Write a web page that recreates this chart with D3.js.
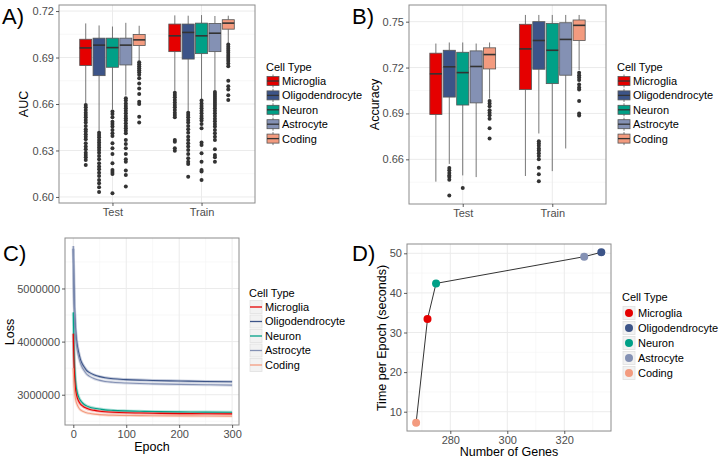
<!DOCTYPE html>
<html><head><meta charset="utf-8">
<script src="https://cdn.jsdelivr.net/npm/d3@7"></script>
<style>
body{margin:0;background:#fff;}
text{font-family:"Liberation Sans",Arial,sans-serif;}
</style></head><body>
<svg id="chart" width="720" height="460"></svg>
<script>
// ---------------- DATA ----------------
const cellTypes = ["Microglia","Oligodendrocyte","Neuron","Astrocyte","Coding"];
const typeColors = ["#E50000","#3C5488","#00A087","#8491B4","#F39B7F"];
const splits = ["Test","Train"];

const aucTicks = [0.60,0.63,0.66,0.69,0.72];
const accTicks = [0.66,0.69,0.72,0.75];
const epochTicks = [0,100,200,300];
const lossTicks = [3000000,4000000,5000000];
const geneTicks = [280,300,320];
const timeTicks = [10,20,30,40,50];

// box stats: [lower whisker, Q1, median, Q3, upper whisker]
const aucTestStats = [
  [0.6605,0.6848,0.6962,0.7018,0.7120],
  [0.6425,0.6783,0.6980,0.7025,0.7107],
  [0.6565,0.6837,0.6964,0.7025,0.7100],
  [0.6655,0.6852,0.6980,0.7025,0.7124],
  [0.6880,0.6977,0.7014,0.7049,0.7105]
];
const aucTrainStats = [
  [0.6685,0.6938,0.7040,0.7116,0.7172],
  [0.6555,0.6890,0.7062,0.7116,0.7170],
  [0.6630,0.6925,0.7040,0.7122,0.7174],
  [0.6685,0.6938,0.7057,0.7120,0.7168],
  [0.6990,0.7083,0.7122,0.7144,0.7170]
];
const aucTestOutliers = [
  [0.6594,0.6579,0.6561,0.6544,0.6529,0.6514,0.6497,0.6480,0.6458,0.6437,0.6422,0.6404,0.6389,0.6372,0.6346,0.6325,0.6308,0.6286,0.6271,0.6256,0.6239,0.6207],
  [0.6415,0.6400,0.6385,0.6368,0.6351,0.6336,0.6320,0.6303,0.6286,0.6265,0.6243,0.6217,0.6196,0.6179,0.6157,0.6136,0.6110,0.6088,0.6063,0.6032],
  [0.6551,0.6536,0.6514,0.6486,0.6471,0.6454,0.6432,0.6411,0.6394,0.6346,0.6314,0.6278,0.6217,0.6174,0.6161,0.6148,0.6024],
  [0.6637,0.6622,0.6604,0.6587,0.6572,0.6557,0.6540,0.6523,0.6508,0.6493,0.6475,0.6458,0.6443,0.6428,0.6411,0.6368,0.6342,0.6314,0.6278,0.6243,0.6228,0.6170,0.6142,0.6067],
  [0.6870,0.6857,0.6844,0.6831,0.6818,0.6805,0.6788,0.6767,0.6732,0.6700,0.6664,0.6615,0.6600,0.6518,0.6480]
];
const aucTrainOutliers = [
  [0.6673,0.6658,0.6643,0.6626,0.6609,0.6594,0.6579,0.6561,0.6544,0.6529,0.6514,0.6368,0.6357,0.6314,0.6299],
  [0.6544,0.6529,0.6514,0.6497,0.6480,0.6458,0.6437,0.6415,0.6389,0.6368,0.6346,0.6325,0.6303,0.6278,0.6250,0.6228,0.6213,0.6131],
  [0.6622,0.6604,0.6587,0.6572,0.6557,0.6540,0.6523,0.6508,0.6493,0.6471,0.6443,0.6351,0.6336,0.6282,0.6228,0.6174,0.6164,0.6110],
  [0.6677,0.6664,0.6652,0.6639,0.6626,0.6613,0.6600,0.6587,0.6572,0.6557,0.6540,0.6523,0.6505,0.6488,0.6471,0.6454,0.6432,0.6411,0.6389,0.6368,0.6308,0.6271,0.6256,0.6228],
  [0.6984,0.6969,0.6956,0.6943,0.6930,0.6917,0.6904,0.6891,0.6878,0.6861,0.6844,0.6750,0.6715,0.6694,0.6657,0.6626]
];

const accTestStats = [
  [0.6454,0.6893,0.7159,0.7294,0.7357],
  [0.6570,0.7007,0.7205,0.7313,0.7364],
  [0.6495,0.6955,0.7167,0.7300,0.7364],
  [0.6484,0.6969,0.7207,0.7309,0.7357],
  [0.6997,0.7191,0.7285,0.7329,0.7364]
];
const accTrainStats = [
  [0.6491,0.7056,0.7322,0.7483,0.7544],
  [0.6769,0.7189,0.7377,0.7500,0.7544],
  [0.6523,0.7095,0.7313,0.7489,0.7544],
  [0.6671,0.7150,0.7384,0.7493,0.7544],
  [0.7183,0.7377,0.7476,0.7511,0.7544]
];
const accTestOutliers = [
  [],
  [0.6543,0.6528,0.6510,0.6495,0.6484,0.6467,0.6364],
  [0.6412],
  [],
  [0.6982,0.6965,0.6947,0.6921,0.6904,0.6888,0.6866,0.6803,0.6736]
];
const accTrainOutliers = [
  [],
  [0.6719,0.6704,0.6689,0.6671,0.6657,0.6639,0.6622,0.6600,0.6545,0.6502,0.6456],
  [],
  [],
  [0.7166,0.7150,0.7135,0.7118,0.7089,0.7070,0.7057,0.6982,0.6900,0.6886]
];

const epochs = [0,1,2,3,4,5,7,10,13,16,20,25,30,40,50,60,75,100,125,150,200,250,300];
const lossMicroglia = [4.15,3.70,3.42,3.25,3.13,3.05,2.96,2.88,2.83,2.80,2.77,2.745,2.725,2.705,2.69,2.68,2.67,2.66,2.655,2.65,2.645,2.642,2.64].map(v=>v*1e6);
const lossOligodendrocyte = [5.75,5.10,4.70,4.45,4.27,4.13,3.96,3.80,3.68,3.60,3.53,3.46,3.42,3.37,3.34,3.32,3.30,3.285,3.275,3.268,3.258,3.25,3.245].map(v=>v*1e6);
const lossNeuron = [4.55,3.95,3.62,3.42,3.28,3.18,3.06,2.96,2.90,2.86,2.82,2.79,2.77,2.745,2.73,2.715,2.705,2.695,2.688,2.683,2.677,2.673,2.67].map(v=>v*1e6);
const lossAstrocyte = [5.80,5.05,4.62,4.36,4.18,4.05,3.88,3.72,3.61,3.53,3.46,3.39,3.35,3.30,3.27,3.25,3.235,3.22,3.21,3.205,3.195,3.188,3.18].map(v=>v*1e6);
const lossCoding = [3.50,3.25,3.10,3.00,2.93,2.88,2.82,2.76,2.72,2.70,2.68,2.66,2.65,2.635,2.625,2.62,2.615,2.61,2.607,2.605,2.602,2.60,2.598].map(v=>v*1e6);

const numGenes = [272,333,275,327,268];
const timePerEpoch = [33.4,50.25,42.4,49.15,7.2];

// ---------------- DRAWING ----------------
const svg = d3.select("#chart");
const TICKC = "#4d4d4d", GRID = "#ebebeb", GRIDMINOR = "#f4f4f4", FRAME = "#8c8c8c";

function panelBase(b, x, y, xMajor, xMinor, yMajor, yMinor) {
  const g = svg.append("g");
  g.append("rect").attr("x",b.l).attr("y",b.t).attr("width",b.r-b.l).attr("height",b.b-b.t).attr("fill","#fff");
  g.selectAll(".gyn").data(yMinor).join("line").attr("x1",b.l).attr("x2",b.r)
    .attr("y1",d=>y(d)).attr("y2",d=>y(d)).attr("stroke",GRIDMINOR).attr("stroke-width",0.6);
  g.selectAll(".gxn").data(xMinor).join("line").attr("y1",b.t).attr("y2",b.b)
    .attr("x1",d=>x(d)).attr("x2",d=>x(d)).attr("stroke",GRIDMINOR).attr("stroke-width",0.6);
  g.selectAll(".gy").data(yMajor).join("line").attr("x1",b.l).attr("x2",b.r)
    .attr("y1",d=>y(d)).attr("y2",d=>y(d)).attr("stroke",GRID).attr("stroke-width",1);
  g.selectAll(".gx").data(xMajor).join("line").attr("y1",b.t).attr("y2",b.b)
    .attr("x1",d=>x(d)).attr("x2",d=>x(d)).attr("stroke",GRID).attr("stroke-width",1);
  return g;
}
function frame(b) {
  svg.append("rect").attr("x",b.l).attr("y",b.t).attr("width",b.r-b.l).attr("height",b.b-b.t)
    .attr("fill","none").attr("stroke",FRAME).attr("stroke-width",1);
}
function styleAxis(ax) {
  ax.select(".domain").remove();
  ax.selectAll(".tick line").attr("stroke","#333").attr("stroke-width",0.8);
  ax.selectAll(".tick text").attr("fill",TICKC).style("font-size","11px").style("font-family","'Liberation Sans',Arial,sans-serif");
}
function axes(b, x, y, xTicks, yTicks, xFmt, yFmt) {
  const ax = svg.append("g").attr("transform",`translate(0,${b.b})`)
    .call(d3.axisBottom(x).tickValues(xTicks).tickFormat(xFmt).tickSize(3).tickPadding(2));
  styleAxis(ax);
  const ay = svg.append("g").attr("transform",`translate(${b.l},0)`)
    .call(d3.axisLeft(y).tickValues(yTicks).tickFormat(yFmt).tickSize(3).tickPadding(2));
  styleAxis(ay);
}
function titles(xt, xPos, yt, yPos, letter, lPos) {
  if (xt) svg.append("text").attr("x",xPos[0]).attr("y",xPos[1]).attr("text-anchor","middle")
    .style("font-size","12.5px").attr("fill","#000").text(xt);
  svg.append("text").attr("transform",`translate(${yPos[0]},${yPos[1]}) rotate(-90)`)
    .attr("text-anchor","middle").attr("dy","0.35em").style("font-size","12.5px").attr("fill","#000").text(yt);
  svg.append("text").attr("x",lPos[0]).attr("y",lPos[1]).style("font-size","22px").attr("fill","#000").text(letter);
}
function legend(pos, kind) {
  const g = svg.append("g");
  g.append("text").attr("x",pos.x).attr("y",pos.ty).style("font-size","11px").attr("fill","#000").text("Cell Type");
  cellTypes.forEach((name,i) => {
    const cy = pos.y0 + i*pos.step, kx = pos.x + 1, kw = 12, kh = 13;
    if (kind === "box") {
      g.append("line").attr("x1",kx+kw/2).attr("x2",kx+kw/2).attr("y1",cy-kh/2).attr("y2",cy+kh/2)
        .attr("stroke","#555").attr("stroke-width",0.8);
      g.append("rect").attr("x",kx).attr("y",cy-4.5).attr("width",kw).attr("height",9)
        .attr("fill",typeColors[i]).attr("stroke","#555").attr("stroke-width",0.8);
      g.append("line").attr("x1",kx).attr("x2",kx+kw).attr("y1",cy).attr("y2",cy)
        .attr("stroke","#333").attr("stroke-width",1.3);
    } else {
      g.append("rect").attr("x",kx).attr("y",cy-kh/2).attr("width",kw).attr("height",kh)
        .attr("fill","#f2f2f2").attr("stroke","#e0e0e0").attr("stroke-width",0.8);
      if (kind === "line") {
        g.append("line").attr("x1",kx).attr("x2",kx+kw).attr("y1",cy).attr("y2",cy)
          .attr("stroke",typeColors[i]).attr("stroke-width",1.3);
      } else {
        g.append("circle").attr("cx",kx+kw/2).attr("cy",cy).attr("r",4).attr("fill",typeColors[i]);
      }
    }
    g.append("text").attr("x",pos.x+16).attr("y",cy).attr("dy","0.36em").style("font-size","11px")
      .attr("fill","#000").text(name);
  });
}

function boxPanel(b, yDomain, yTicks, testStats, trainStats, testOut, trainOut, yTitle, letter, lPos, legPos, yTitleX) {
  const x = d3.scalePoint().domain(splits).range([b.l,b.r]).padding(0.6);
  const y = d3.scaleLinear().domain(yDomain).range([b.b,b.t]);
  const minor = [];
  for (let i=0;i<yTicks.length-1;i++) minor.push((yTicks[i]+yTicks[i+1])/2);
  minor.push(yTicks[0]-0.015); minor.push(yTicks[yTicks.length-1]+0.015);
  panelBase(b, x, y, splits, [], yTicks, minor.filter(v=>v>yDomain[0]&&v<yDomain[1]));
  const slot = x.step()*0.75/cellTypes.length, bw = slot*0.9;
  const g = svg.append("g");
  splits.forEach((s,si) => {
    const stats = si===0 ? testStats : trainStats;
    const outs = si===0 ? testOut : trainOut;
    stats.forEach((st,i) => {
      const cx = x(s) + (i-(cellTypes.length-1)/2)*slot;
      g.append("line").attr("x1",cx).attr("x2",cx).attr("y1",y(st[0])).attr("y2",y(st[1]))
        .attr("stroke","#555").attr("stroke-width",0.8);
      g.append("line").attr("x1",cx).attr("x2",cx).attr("y1",y(st[3])).attr("y2",y(st[4]))
        .attr("stroke","#555").attr("stroke-width",0.8);
      g.append("rect").attr("x",cx-bw/2).attr("y",y(st[3])).attr("width",bw).attr("height",y(st[1])-y(st[3]))
        .attr("fill",typeColors[i]).attr("stroke","#555").attr("stroke-width",0.8);
      g.append("line").attr("x1",cx-bw/2).attr("x2",cx+bw/2).attr("y1",y(st[2])).attr("y2",y(st[2]))
        .attr("stroke","#333").attr("stroke-width",1.6);
      g.selectAll(null).data(outs[i]).join("circle").attr("cx",cx).attr("cy",d=>y(d)).attr("r",2)
        .attr("fill","#333");
    });
  });
  frame(b);
  axes(b, x, y, splits, yTicks, d=>d, d3.format(".2f"));
  titles(null, null, yTitle, [yTitleX,(b.t+b.b)/2], letter, lPos);
  legend(legPos, "box");
}

// Panel A
boxPanel({l:59,r:255,t:5,b:203},[0.5961,0.7239],aucTicks,aucTestStats,aucTrainStats,aucTestOutliers,aucTrainOutliers,
  "AUC","A)",[2,24],{x:266,ty:71,y0:81,step:14.4},24);
// Panel B
boxPanel({l:409,r:606,t:5,b:204},[0.6308,0.7609],accTicks,accTestStats,accTrainStats,accTestOutliers,accTrainOutliers,
  "Accuracy","B)",[352,24],{x:617,ty:71,y0:81,step:14.4},375);

// Panel C
(function(){
  const b = {l:65,r:239,t:238,b:425};
  const x = d3.scaleLinear().domain([-15.7,313]).range([b.l,b.r]);
  const y = d3.scaleLinear().domain([2.43e6,5.95e6]).range([b.b,b.t]);
  panelBase(b, x, y, epochTicks, [50,150,250], lossTicks, [2.5e6,3.5e6,4.5e6,5.5e6]);
  const series = [lossMicroglia,lossOligodendrocyte,lossNeuron,lossAstrocyte,lossCoding];
  const line = d3.line().x((d,i)=>x(epochs[i])).y(d=>y(d)).curve(d3.curveMonotoneX);
  const drawOrder = [1,3,2,0,4];
  drawOrder.forEach(i => {
    svg.append("path").attr("d",line(series[i])).attr("fill","none").attr("stroke",typeColors[i])
      .attr("stroke-width",3).attr("stroke-opacity",0.3);
  });
  drawOrder.forEach(i => {
    svg.append("path").attr("d",line(series[i])).attr("fill","none").attr("stroke",typeColors[i])
      .attr("stroke-width",1.1);
  });
  frame(b);
  axes(b, x, y, epochTicks, lossTicks, d3.format("d"), d3.format("d"));
  titles("Epoch",[152,451],"Loss",[10,332],"C)",[3,261]);
  legend({x:249,ty:297,y0:307,step:14.5}, "line");
})();

// Panel D
(function(){
  const b = {l:407,r:611,t:244,b:431};
  const x = d3.scaleLinear().domain([264.8,336.4]).range([b.l,b.r]);
  const y = d3.scaleLinear().domain([5.13,52.35]).range([b.b,b.t]);
  panelBase(b, x, y, geneTicks, [270,290,310,330], timeTicks, [5,15,25,35,45]);
  const idx = d3.range(cellTypes.length).sort((a,c)=>numGenes[a]-numGenes[c]);
  const line = d3.line().x(i=>x(numGenes[i])).y(i=>y(timePerEpoch[i]));
  svg.append("path").attr("d",line(idx)).attr("fill","none").attr("stroke","#333").attr("stroke-width",1);
  svg.selectAll(null).data(idx).join("circle").attr("cx",i=>x(numGenes[i])).attr("cy",i=>y(timePerEpoch[i]))
    .attr("r",4).attr("fill",i=>typeColors[i]);
  frame(b);
  axes(b, x, y, geneTicks, timeTicks, d3.format("d"), d3.format("d"));
  titles("Number of Genes",[509,456],"Time per Epoch (seconds)",[382,338],"D)",[352,261]);
  legend({x:622,ty:301,y0:313,step:15}, "point");
})();
</script>
</body></html>
